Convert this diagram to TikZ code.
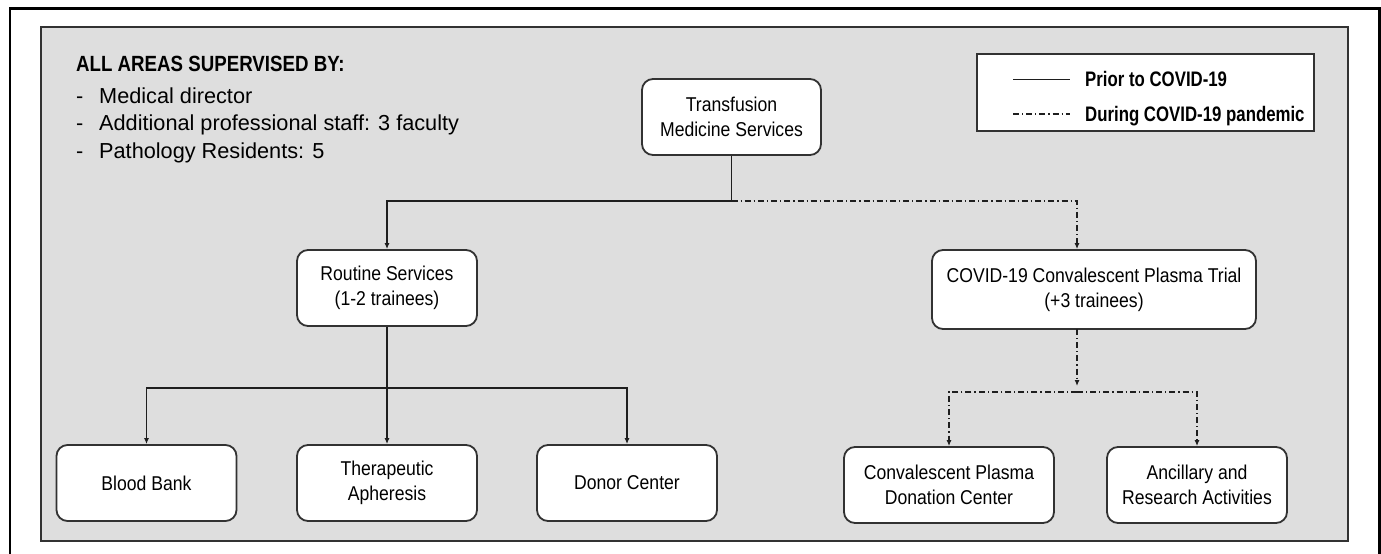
\documentclass[tikz,border=0pt]{standalone}
\usepackage{fontspec}
\setmainfont{Liberation Sans}
\newfontfamily\boxfont[FakeStretch=0.88]{Liberation Sans}
\newfontfamily\hdrfont[FakeStretch=0.85]{Liberation Sans}
\newfontfamily\legfont[FakeStretch=0.80]{Liberation Sans}
\usetikzlibrary{arrows.meta}
\definecolor{panelgray}{RGB}{222,222,222}
\definecolor{edgegray}{RGB}{50,50,50}
\definecolor{linecol}{RGB}{30,30,30}
\tikzset{
  box/.style={draw=edgegray, line width=1.8pt, fill=white, rounded corners=11pt, align=center,
    font=\boxfont\fontsize{20}{25}\selectfont, inner sep=0pt, minimum height=76pt},
  conn/.style={draw=linecol, line width=1.4pt},
  ddash/.style={conn, dash pattern=on 6pt off 3pt on 1.2pt off 3pt},
  tipped/.style={-{Latex[length=6pt,width=5pt]}},
  listtxt/.style={anchor=base west, inner sep=0pt, font=\fontsize{21.7}{25}\selectfont},
  legtxt/.style={anchor=base west, inner sep=0pt, font=\legfont\bfseries\fontsize{21}{25}\selectfont},
}
\begin{document}
\begin{tikzpicture}[x=1pt,y=-1pt]
\useasboundingbox (0,0) rectangle (1381,554);
\fill[white] (0,0) rectangle (1381,554);
% outer frame
\draw[line width=2.5pt, black] (10,570) -- (10,8.5) -- (1379.5,8.5) -- (1379.5,570);
% panel
\draw[draw=edgegray, line width=1.3pt, fill=panelgray] (41,27) rectangle (1348,541);

% header and list
\node[anchor=base west, inner sep=0pt, font=\hdrfont\bfseries\fontsize{22}{26}\selectfont] (hdr) at (76,71) {ALL AREAS SUPERVISED BY:};
\node[listtxt] (d1) at (76,103) {-};
\node[listtxt] (t1) at (99,103) {Medical director};
\node[listtxt] (d2) at (76,130.5) {-};
\node[listtxt] (t2) at (99,130.5) {Additional professional staff: 3 faculty};
\node[listtxt] (d3) at (76,158) {-};
\node[listtxt] (t3) at (99,158) {Pathology Residents: 5};

% legend
\node[draw=edgegray, line width=1.3pt, fill=white, minimum width=337pt, minimum height=77pt, inner sep=0pt] (leg) at (1145.5,92.5) {};
\coordinate (la1) at (1013,79.5);
\coordinate (lb1) at (1070,79.5);
\coordinate (la2) at (1013,114);
\coordinate (lb2) at (1070,114);
\draw[conn] (la1) -- (lb1);
\draw[ddash, line width=1.2pt] (la2) -- (lb2);
\node[legtxt] (lg1) at (1085,86.5) {Prior to COVID-19};
\node[legtxt] (lg2) at (1085,121) {During COVID-19 pandemic};

% boxes
\node[box, minimum width=179pt] (tms) at (731.5,117) {Transfusion\\Medicine Services};
\node[box, minimum width=180pt] (rout) at (387,288) {Routine Services\\(1-2 trainees)};
\node[box, minimum width=324pt, minimum height=79pt] (cov) at (1094,289.5) {COVID-19 Convalescent Plasma Trial\\(+3 trainees)};
\node[box, minimum width=180pt] (bb) at (146.5,483) {Blood Bank};
\node[box, minimum width=180pt] (ta) at (387,483) {Therapeutic\\Apheresis};
\node[box, minimum width=180pt] (dc) at (627,483) {Donor Center};
\node[box, minimum width=210pt] (cpd) at (949,485) {Convalescent Plasma\\Donation Center};
\node[box, minimum width=180pt] (arc) at (1197,485) {Ancillary and\\Research Activities};

% connectors top
\coordinate (jT) at (731.5,201);
\coordinate (jL) at (387,201);
\coordinate (jR) at (1077,201);
\draw[conn] (tms.south) -- (jT);
\draw[conn, tipped] (jT) -- (jL) -- (rout.north);
\draw[ddash, tipped] (jT) -- (jR) -- (jR |- cov.north);

% routine branch
\coordinate (jB) at (387,388);
\draw[conn, tipped] (rout.south) -- (ta.north);
\draw[conn, tipped] (jB) -| (bb.north);
\draw[conn, tipped] (jB) -| (dc.north);

% covid branch
\coordinate (cS) at (1077,329);
\coordinate (tR) at (1077,386);
\coordinate (hR) at (1077,392);
\draw[ddash, tipped] (cS) -- (tR);
\draw[ddash, tipped] (hR) -| (cpd.north);
\draw[ddash, tipped] (hR) -| (arc.north);
\end{tikzpicture}
\end{document}
